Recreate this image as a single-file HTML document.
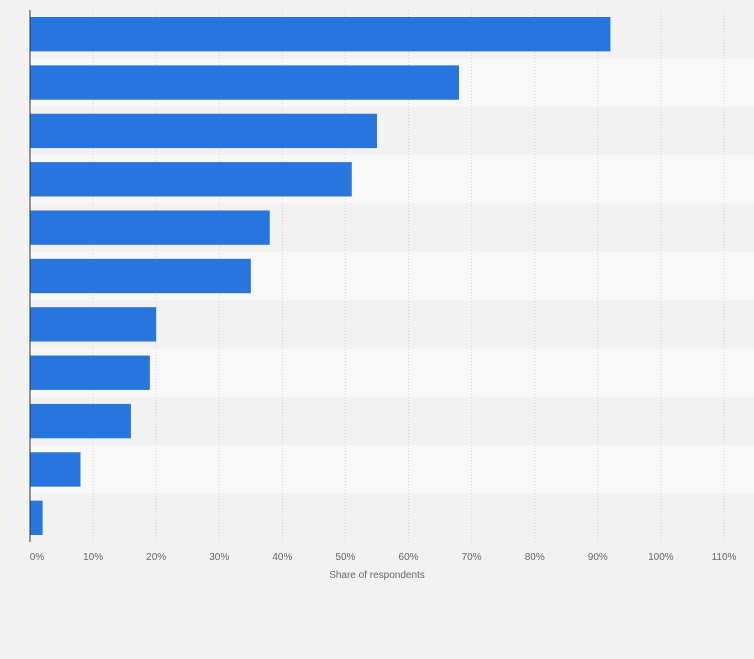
<!DOCTYPE html>
<html><head><meta charset="utf-8"><style>
body{margin:0;background:#f2f2f2;}
svg{display:block;font-family:"Liberation Sans",sans-serif;}
</style></head><body>
<svg id="c" width="754" height="659"></svg>
<script>
const categories=["A","B","C","D","E","F","G","H","I","J","K"];
const values=[92,68,55,51,38,35,20,19,16,8,2];
const ticks=[0,10,20,30,40,50,60,70,80,90,100,110];
const tickLabels=ticks.map(t=>t+"%");
const NS="http://www.w3.org/2000/svg";
const svgEl=document.getElementById("c");
const x0=30,x1=724,yTop=10,yBottom=542;
const xs=v=>x0+(v/110)*(x1-x0);
const rowH=(yBottom-yTop)/categories.length;
const ys=i=>yTop+i*rowH;
function el(t,a){const e=document.createElementNS(NS,t);for(const k in a)e.setAttribute(k,a[k]);svgEl.appendChild(e);return e;}
categories.forEach((c,i)=>{
 const r=el("rect",{x:x0,y:ys(i),width:x1-x0+30,height:rowH,fill:i%2?"#f8f8f8":"#f2f2f2"});
 
 
});
ticks.forEach((t,i)=>{
 if(t>0){const g=el("line",{x1:xs(t),x2:xs(t),y1:yTop,y2:yBottom,stroke:"#d4d4d4","stroke-dasharray":"1,2"});
 
 }
 const l=el("text",{x:xs(t)+(t==0?7:0),y:560,"text-anchor":"middle","font-size":"10",fill:"#666"});
 l.textContent=tickLabels[i];
 
 
});
values.forEach((v,i)=>{
 const b=el("rect",{x:x0,y:ys(i)+7,width:xs(v)-x0,height:rowH-14,fill:"#2876dd"});
 
 
});
const ax=el("line",{x1:x0,x2:x0,y1:yTop,y2:yBottom,stroke:"#333","stroke-width":1});


const tt=el("text",{x:377,y:578,"text-anchor":"middle","font-size":"10",fill:"#666"});
tt.textContent="Share of respondents";


</script>
</body></html>
